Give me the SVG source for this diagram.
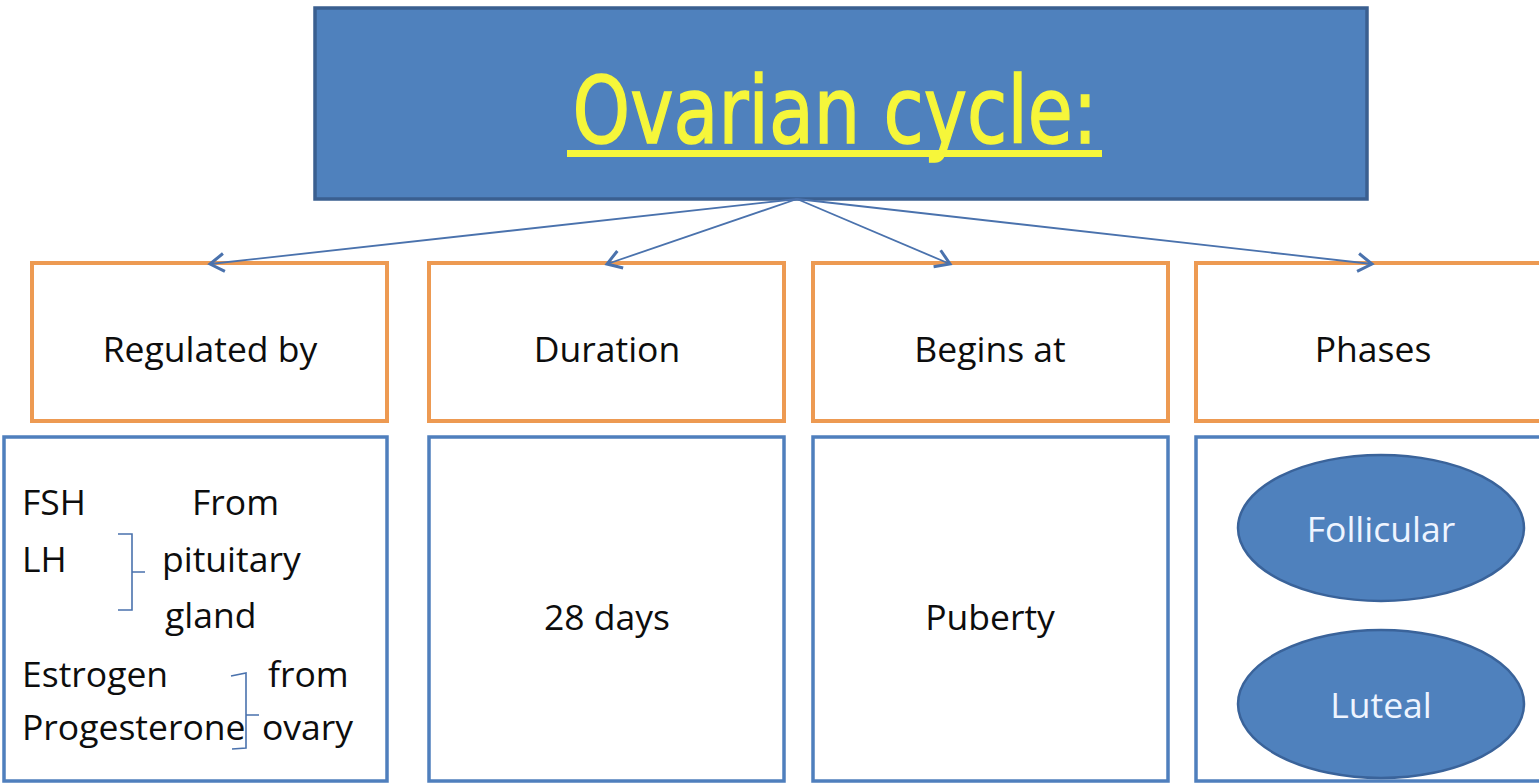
<svg xmlns="http://www.w3.org/2000/svg" width="1539" height="784" viewBox="0 0 1539 784">
<style>
.hdr{fill:#ffffff;stroke:#ed9a52;stroke-width:4}
.cnt{fill:#ffffff;stroke:#4f7fbd;stroke-width:3.5}
.t{font-family:"Open Sans","Noto Sans","Liberation Sans",sans-serif;font-size:35.5px;fill:#0d0d0d}
.c{text-anchor:middle}
.w{fill:#eef4ff}
.conn{stroke:#4a72ad;stroke-width:1.8;fill:none}
.br{stroke:#4a72ad;stroke-width:1.6;fill:none}
.ell{fill:#4f81bd;stroke:#3a639a;stroke-width:2.5}
</style>
<defs>
<marker id="arr" viewBox="0 0 24 24" refX="21" refY="12" markerWidth="24" markerHeight="24" markerUnits="userSpaceOnUse" orient="auto">
<path d="M7,3 L21,12 L7,21" fill="none" stroke="#4a72ad" stroke-width="3"/>
</marker>
</defs>
<rect width="1539" height="784" fill="#ffffff"/>
<g id="title">
<rect x="315" y="8" width="1052" height="191" fill="#4f81bd" stroke="#3a5f90" stroke-width="3.5"/>
<text x="835" y="143" text-anchor="middle" font-family="'DejaVu Sans','Noto Sans',sans-serif" font-size="92" fill="#f6f63a" stroke="#f6f63a" stroke-width="1.5" textLength="525" lengthAdjust="spacingAndGlyphs">Ovarian cycle:</text>
<rect x="567" y="150" width="535" height="7" fill="#f6f63a"/>
</g>
<g id="regulated-by">
<rect class="hdr" x="32" y="263" width="355" height="158"/>
<text class="t c" x="210" y="362">Regulated by</text>
</g>
<g id="duration">
<rect class="hdr" x="429" y="263" width="355" height="158"/>
<text class="t c" x="607" y="362">Duration</text>
</g>
<g id="begins-at">
<rect class="hdr" x="813" y="263" width="355" height="158"/>
<text class="t c" x="990" y="362">Begins at</text>
</g>
<g id="phases">
<rect class="hdr" x="1196" y="263" width="360" height="158"/>
<text class="t c" x="1373" y="362">Phases</text>
</g>
<g id="regulators">
<rect class="cnt" x="4" y="437" width="383" height="344"/>
<text class="t" x="22" y="515">FSH</text>
<text class="t" x="192" y="515">From</text>
<text class="t" x="22" y="572">LH</text>
<text class="t" x="162" y="572">pituitary</text>
<text class="t" x="165" y="628">gland</text>
<text class="t" x="22" y="687">Estrogen</text>
<text class="t" x="268" y="687">from</text>
<text class="t" x="22" y="740">Progesterone</text>
<text class="t" x="262" y="740">ovary</text>
<path class="br" d="M118,534 L132,534 L132,610 L118,610 M132,572 L145,572"/>
<path class="br" d="M231,676 L246,673 L246,748 L232,749 M246,715 L259,715"/>
</g>
<g id="duration-value">
<rect class="cnt" x="429" y="437" width="355" height="344"/>
<text class="t c" x="607" y="630">28 days</text>
</g>
<g id="begins-value">
<rect class="cnt" x="813" y="437" width="355" height="344"/>
<text class="t c" x="990" y="630">Puberty</text>
</g>
<g id="phases-list">
<rect class="cnt" x="1196" y="437" width="360" height="344"/>
</g>
<g id="follicular">
<ellipse class="ell" cx="1381" cy="528" rx="143" ry="73"/>
<text class="t c w" x="1381" y="542">Follicular</text>
</g>
<g id="luteal">
<ellipse class="ell" cx="1381" cy="704" rx="143" ry="74"/>
<text class="t c w" x="1381" y="718">Luteal</text>
</g>
<g id="connectors">
<line class="conn" x1="797" y1="199" x2="210" y2="264" marker-end="url(#arr)"/>
<line class="conn" x1="797" y1="199" x2="607" y2="264" marker-end="url(#arr)"/>
<line class="conn" x1="797" y1="199" x2="950" y2="264" marker-end="url(#arr)"/>
<line class="conn" x1="797" y1="199" x2="1372" y2="264" marker-end="url(#arr)"/>
</g>
</svg>
